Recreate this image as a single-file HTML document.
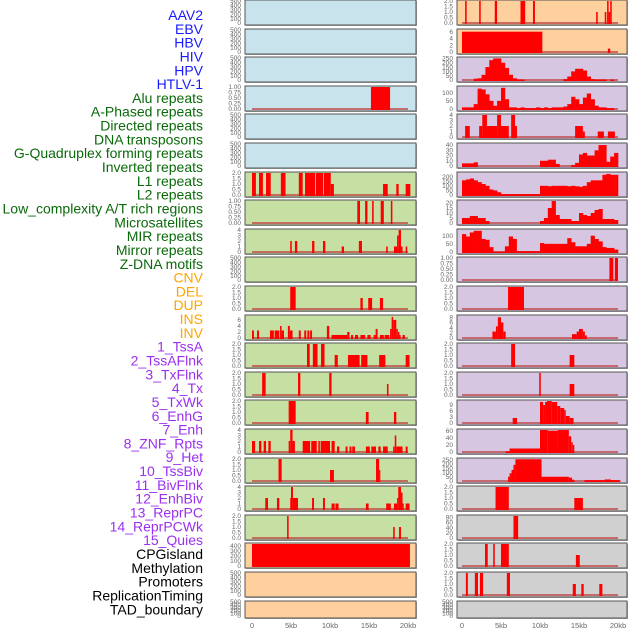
<!DOCTYPE html>
<html><head><meta charset="utf-8">
<style>
html,body{margin:0;padding:0;background:#fff;width:630px;height:630px;overflow:hidden}
svg{display:block}
.lab{font-family:"Liberation Sans",sans-serif;font-size:14px}
.tk{font-family:"Liberation Sans",sans-serif;font-size:6.5px;fill:#666}
.xt{font-family:"Liberation Sans",sans-serif;font-size:7.5px;fill:#666}
</style></head>
<body>
<svg id="chart" width="630" height="630" viewBox="0 0 630 630"></svg>
<script>
// ---- data ----
const trackLabels = ["AAV2","EBV","HBV","HIV","HPV","HTLV-1","Alu repeats","A-Phased repeats","Directed repeats","DNA transposons","G-Quadruplex forming repeats","Inverted repeats","L1 repeats","L2 repeats","Low_complexity A/T rich regions","Microsatellites","MIR repeats","Mirror repeats","Z-DNA motifs","CNV","DEL","DUP","INS","INV","1_TssA","2_TssAFlnk","3_TxFlnk","4_Tx","5_TxWk","6_EnhG","7_Enh","8_ZNF_Rpts","9_Het","10_TssBiv","11_BivFlnk","12_EnhBiv","13_ReprPC","14_ReprPCWk","15_Quies","CPGisland","Methylation","Promoters","ReplicationTiming","TAD_boundary"];
const labelGroups = [6,13,5,15,5];
const xTickLabels = ["0","5kb","10kb","15kb","20kb"];
const xTickValues = [0,5,10,15,20];

const T2 = ["0.0","0.5","1.0","1.5","2.0"];
const T1 = ["0.00","0.25","0.50","0.75","1.00"];
const TE = ["0","100","200","300","400","500"];
const T4 = ["0","1","2","3","4"];

// left column: bars are [startKb, endKb, value]
const leftBg = ["b","b","b","b","b","b","g","g","g","g","g","g","g","g","g","g","g","g","g","o","o","o"];
const leftTicks = [TE,TE,TE,T1,TE,TE,T2,T1,T4,TE,T2,["0","2","4","6"],T2,T2,T2,T4,T2,T4,T2,["0","100","200","300","400"],TE,TE];
const leftMax = [500,500,500,1,500,500,2,1,4,500,2,7.3,2,2,2,4,2,4,2,440,500,500];
const leftBars = [
 [],[],[],
 [[15.25,17.7,1]],
 [],[],
 [[0,0.5,2],[0.9,1.4,2],[1.8,2.4,2],[3.7,4.3,2],[6,6.5,2],[6.8,8.1,2],[8.2,9.1,2],[9.2,10.1,2],[10.1,10.5,1],[16.8,17.4,1],[18.5,18.8,1],[19.7,20.3,1]],
 [[13.5,13.85,1],[14.5,14.8,1],[15.4,15.6,1],[16.5,16.9,1],[17.8,18,1]],
 [[4.9,5.1,2],[5.5,5.8,2],[7.7,8,2],[9.1,9.4,2],[11.5,11.8,1],[13.7,14.1,2],[17.2,17.4,1],[18.2,18.6,1],[18.6,18.8,3],[18.8,19.1,4],[19.1,19.3,1],[19.7,19.9,1]],
 [],
 [[4.9,5.6,2],[13.9,14.2,1],[14.9,15.4,1],[16.4,16.8,1]],
 [[0,0.25,2.5],[0.65,0.9,2.5],[2.3,2.8,2.5],[2.9,3.5,2.5],[3.6,3.8,4],[3.8,4.1,2.5],[4.6,4.85,4],[4.85,5.2,2.5],[6,6.25,2.5],[6.7,6.95,2.5],[7.1,7.35,2.5],[7.45,7.7,2.5],[9.6,9.9,4],[10.2,12.2,1],[12.2,12.5,2],[12.7,12.95,1],[13.2,13.6,1],[13.9,14.5,1],[14.8,15.2,1],[15.6,15.85,1],[15.85,16.1,3],[16.4,16.9,1],[17.0,17.6,1],[17.7,17.9,3],[17.9,18.1,7],[18.1,18.5,6],[18.5,18.7,3],[18.7,18.9,2],[18.9,19.0,1],[19.3,19.6,1]],
 [[7.05,7.4,2],[7.8,8.4,2],[8.85,9.3,2],[10.6,11,1],[12.3,13.8,1],[14,14.8,1],[16.3,17.1,1],[19.7,20.2,1]],
 [[1.3,1.75,2],[5.9,6.2,2],[9.9,10.2,2],[17.3,17.5,1]],
 [[4.7,5.6,2],[14.6,14.95,1],[18.2,18.5,1]],
 [[0,0.4,2],[0.9,1.2,2],[1.5,1.8,2],[2.1,2.4,2],[4.7,4.9,2],[4.9,5.2,4],[5.2,5.5,2],[6.5,7.45,2],[7.6,8.3,2],[8.5,8.7,2],[8.8,10,2],[10.2,10.6,2],[10.9,11.2,1],[12,12.25,1],[12.5,12.75,1],[12.85,13.2,1],[14.6,15.1,1],[15.3,15.9,1],[16.2,16.5,1],[16.8,17.4,1],[18.1,18.3,1],[18.3,18.5,3],[18.5,19.3,1],[19.7,19.95,1]],
 [[3.4,3.8,2],[10,10.5,1],[15.9,16.3,2],[16.3,16.45,1]],
 [[1.7,2.05,2],[3.2,3.5,2],[4.9,5.0,2],[5.0,5.25,4],[5.25,5.9,2],[7.7,7.95,2],[9.1,9.35,2],[10.2,10.6,1],[10.7,11.1,1],[14.6,14.95,1],[17.2,17.8,1],[18.2,18.6,1],[18.6,18.75,2],[18.75,19.1,4],[19.1,19.3,3],[19.3,19.4,1],[19.7,20.2,1]],
 [[4.5,4.7,2],[18.1,18.3,1],[18.85,19.1,1]],
 [[0,20.25,440]],
 [],[]
];

// right column
const rightBg = ["o","o","p","p","p","p","p","p","p","p","p","p","p","p","p","p","p","y","y","y","y","y"];
const rightTicks = [T2,["0","2","4","6"],["0","50","100","150","200","250"],["0","50","100"],T4,["0","10","20","30","40"],["0","50","100","150","200"],["0","5","10","15","20"],["0","50","100"],T1,T2,["0","2","4","6","8"],T2,T2,["0","3","6","9"],["0","20","40","60"],["0","50","100","150","200","250"],T2,["0","20","40","60","80"],T2,T2,TE];
const rightMax = [2,6.5,255,135,4,42,240,22,135,1,2,8.5,2,2,11,63,258,2,85,2,2,500];
const rightBars = [
 [[0.4,0.6,2],[2.2,2.4,2],[4.2,4.5,2],[7.5,8.1,2],[9.1,9.35,2],[17.2,17.4,1],[18.3,18.5,1],[18.6,18.8,2],[18.8,19.0,1],[19.0,19.2,2]],
 [[0,10.3,6],[18.7,19,1]],
 [],[],
 [[0.4,1.0,2],[2.2,2.6,2],[2.6,3.2,4],[3.2,4.5,2],[4.5,5.0,4],[5.0,6.0,2],[6.3,6.8,4],[6.8,7.05,2],[14.5,15.5,2],[15.5,15.75,1],[17.4,18.2,1],[18.7,19.6,1]],
 [],[],[],[],
 [[18.9,19.4,1],[19.6,20.0,1]],
 [[5.9,7.95,2]],
 [[3.9,4.35,2.5],[4.35,4.6,4.5],[4.6,5.0,8],[5.0,5.3,6],[5.3,5.6,2.5],[14.1,14.7,1.5],[14.7,15.0,2.5],[15.0,15.5,3.5],[15.5,15.75,2.5],[15.75,16.0,1]],
 [[6.3,6.8,2],[13.8,14.4,1]],
 [[9.9,10.1,2],[13.8,14.4,1]],
 [[6.5,7.05,2.5],[10,10.4,10.5],[10.4,10.65,9],[10.65,10.9,10.5],[10.9,11.5,11],[11.5,12.2,10.5],[12.2,12.6,8.5],[12.6,13.1,7.5],[13.1,13.3,6.5],[13.3,13.8,3.5],[13.8,14.3,2.5]],
 [[5.6,6.1,2],[6.1,10,10],[10,11,63],[11,12.3,61],[12.3,13.7,63],[13.7,14.0,45],[14.0,14.2,28],[14.2,14.4,20]],
 [[5.9,6.1,50],[6.1,6.35,90],[6.35,6.6,130],[6.6,6.85,190],[6.85,10.2,255],[10.2,13.7,50],[13.7,14.1,40],[14.1,14.4,15],[15.7,18.3,10],[18.3,19.1,18],[19.1,20.3,10]],
 [[4.3,6.0,2],[14.4,15.5,1]],
 [[6.6,7.2,85]],
 [[2.95,3.3,2],[4.0,4.2,2],[5.0,6.0,2],[14.6,15.1,1]],
 [[0.5,0.75,2],[1.65,2.05,2],[2.3,2.7,2],[5.75,6.15,2],[14.2,14.6,1],[15.3,15.6,1],[17.6,18,1]],
 []
];
// histogram tracks (0.5kb bins from 0 to 20kb)
const histHIV = [0,0,0,15,20,60,150,230,250,250,200,140,60,20,5,5,0,0,0,0,0,0,0,0,0,0,10,40,100,130,130,110,40,10,5,5,5,0,5,0];
const histHPV = [10,10,10,30,125,120,90,50,20,50,130,60,10,10,5,10,5,5,5,10,5,10,5,10,10,10,15,30,75,60,30,70,95,60,20,10,10,5,5,0];
const histDirected = [5,5,5,7,0,0,0,0,0,0,0,0,0,0,0,0,0,0,0,0,10,10,12,12,4,0,0,0,2,6,22,25,20,20,30,40,40,8,18,25];
const histL1 = [160,170,180,160,140,120,100,60,50,30,10,10,10,10,10,10,10,10,10,10,100,100,95,100,100,100,100,95,100,95,90,100,140,160,160,160,220,230,220,220];
const histLow = [5,5,7,7,5,5,2,0,0,0,0,0,0,0,0,0,0,0,0,0,2,5,15,22,8,4,4,4,2,2,10,8,7,10,13,14,4,4,4,3];
const histMIR = [110,95,120,130,130,80,75,30,2,2,2,35,95,80,5,5,5,5,5,5,55,50,50,50,50,50,50,85,60,35,35,35,50,100,80,65,30,25,25,15];
const rightHist = {2:histHIV,3:histHPV,5:histDirected,6:histL1,7:histLow,8:histMIR};

// ---- drawing ----
const NS="http://www.w3.org/2000/svg";
const svg=document.getElementById('chart');
const bgColors={b:"#c8e3eb",g:"#c6e0a4",o:"#fdd09e",p:"#d6c6e1",y:"#d0d0d0"};
function mk(tag,attrs,parent){const e=document.createElementNS(NS,tag);for(const k in attrs)e.setAttribute(k,attrs[k]);(parent||svg).appendChild(e);return e;}

// labels
let li=0;
const labelColors=["#1a1aff","#0a6a0a","#ffa500","#9b30f0","#000000"];
labelGroups.forEach((n,g)=>{for(let k=0;k<n;k++){const t=mk('text',{x:203,y:20+li*13.82,'text-anchor':'end',class:'lab',fill:labelColors[g]});


t.textContent=trackLabels[li];li++;}});

function panelTop(i){return Math.round(i*28.6);}
function drawPanel(side,i,bg,ticks,ymax,bars,hist){
  const x0=side==='left'?245:457, x1=side==='left'?416:627;
  const kb0=side==='left'?252:462;
  const xs=kb=>kb0+kb*7.8;
  const top=panelTop(i), H=(i===21)?17:25;
  const g=mk('g',{});
  
  
  mk('rect',{x:x0+1,y:top+1,width:x1-x0,height:H,fill:'#aaa'},g);
  mk('rect',{x:x0,y:top,width:x1-x0,height:H,fill:bgColors[bg],stroke:'#555','stroke-width':1},g);
  const yb=top+H-2, yt=top+1;
  const ys=v=>yb-(v/ymax)*(yb-yt);
  const n=ticks.length-1;
  ticks.forEach((s,k)=>{const v=parseFloat(ticks[n])*k/n;const t=mk('text',{x:x0-4,y:ys(v)+2.2,'text-anchor':'end',class:'tk'},g);
    
    
    t.textContent=s;});
  const hasData=bars.length>0||hist;
  if(hasData){mk('rect',{x:xs(0),y:yb-1,width:xs(20)-xs(0),height:2,fill:'#c04848',opacity:0.75},g);}
  const clipTop=top+0.5;
  bars.forEach(b=>{const y=Math.max(clipTop,ys(b[2]));const r=mk('rect',{x:xs(b[0]),y:y,width:Math.max(1.2,xs(b[1])-xs(b[0])),height:yb-y+1,fill:'#ff0000'},g);
    
    });
  if(hist){hist.forEach((v,k)=>{if(v<=0)return;const y=Math.max(clipTop,ys(v));const r=mk('rect',{x:xs(k*0.5),y:y,width:7.8*0.5+0.3,height:yb-y+1,fill:'#ff0000'},g);
    
    });}
}
for(let i=0;i<22;i++){drawPanel('left',i,leftBg[i],leftTicks[i],leftMax[i],leftBars[i],null);}
for(let i=0;i<22;i++){drawPanel('right',i,rightBg[i],rightTicks[i],rightMax[i],rightBars[i],rightHist[i]);}
['left','right'].forEach(side=>{const kb0=side==='left'?252:462;
  xTickValues.forEach((v,k)=>{const t=mk('text',{x:kb0+v*7.8,y:628,'text-anchor':'middle',class:'xt'});
    
    
    t.textContent=xTickLabels[k];});});
</script>
</body></html>
